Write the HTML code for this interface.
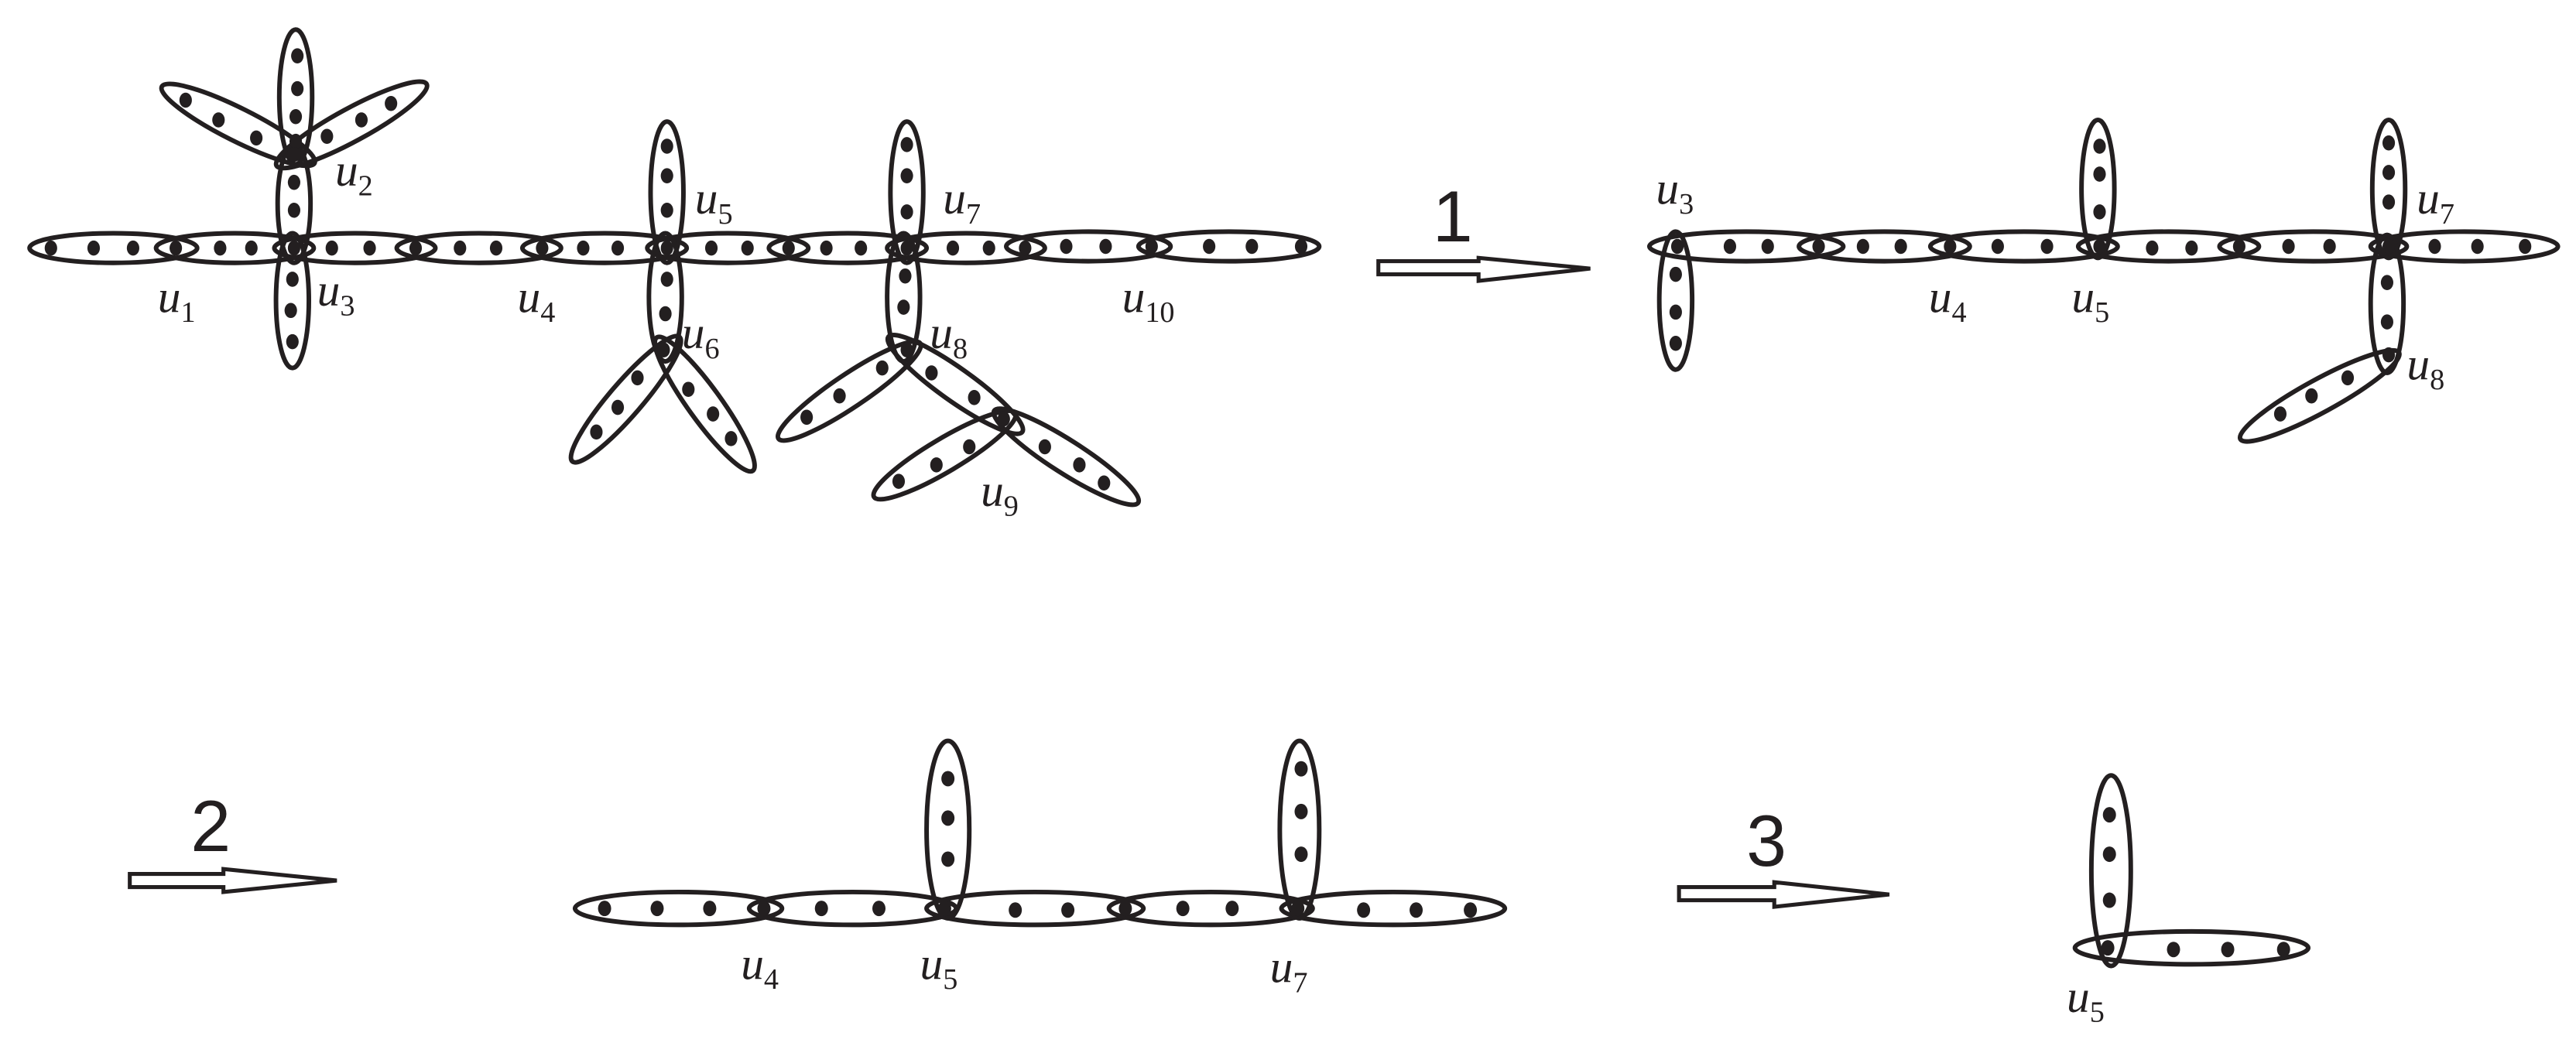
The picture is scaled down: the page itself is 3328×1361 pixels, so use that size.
<!DOCTYPE html>
<html><head><meta charset="utf-8"><style>
html,body{margin:0;padding:0;background:#fff;}
svg{display:block;}
.e{fill:none;stroke:#231f20;stroke-width:2.8;}
.d{fill:#231f20;}
.l{font-family:"Liberation Serif",serif;font-style:italic;font-size:28px;fill:#231f20;}
.s{font-style:normal;font-size:18px;}
.n{font-family:"Liberation Sans",sans-serif;font-size:44px;fill:#231f20;}
.a{fill:#fff;stroke:#231f20;stroke-width:2.4;}
</style></head><body>
<svg width="3328" height="1361" viewBox="0 0 1568 641" preserveAspectRatio="none" xmlns="http://www.w3.org/2000/svg">
<g class="e">
<ellipse cx="69" cy="151" rx="51" ry="9"/>
<ellipse cx="143" cy="151" rx="48" ry="9"/>
<ellipse cx="216" cy="151" rx="49" ry="9"/>
<ellipse cx="291.5" cy="151" rx="50" ry="9"/>
<ellipse cx="368" cy="151" rx="50" ry="9"/>
<ellipse cx="443" cy="151" rx="49" ry="9"/>
<ellipse cx="516" cy="151" rx="48" ry="9"/>
<ellipse cx="588" cy="151" rx="48" ry="9"/>
<ellipse cx="662.5" cy="150" rx="50" ry="9"/>
<ellipse cx="748" cy="150" rx="55" ry="9"/>
<ellipse cx="180" cy="59" rx="10" ry="41"/>
<ellipse cx="179" cy="124" rx="10" ry="36"/>
<ellipse cx="178" cy="183" rx="10" ry="41"/>
<ellipse cx="145" cy="76" rx="52" ry="10" transform="rotate(26.6 145 76)"/>
<ellipse cx="214" cy="76" rx="52" ry="10" transform="rotate(-28.5 214 76)"/>
<ellipse cx="406" cy="117" rx="10" ry="43"/>
<ellipse cx="405" cy="181" rx="10" ry="39"/>
<ellipse cx="381" cy="243" rx="50" ry="10" transform="rotate(-49.3 381 243)"/>
<ellipse cx="429" cy="246" rx="50" ry="10" transform="rotate(54.2 429 246)"/>
<ellipse cx="552" cy="117" rx="10" ry="43"/>
<ellipse cx="550" cy="181" rx="10" ry="39"/>
<ellipse cx="517" cy="238" rx="52" ry="10" transform="rotate(-33.9 517 238)"/>
<ellipse cx="581.5" cy="234" rx="50" ry="10" transform="rotate(35.4 581.5 234)"/>
<ellipse cx="575" cy="277" rx="50" ry="10" transform="rotate(-30.7 575 277)"/>
<ellipse cx="649" cy="278" rx="52" ry="10" transform="rotate(32.6 649 278)"/>
</g>
<g class="d">
<ellipse cx="31" cy="151" rx="3.8" ry="4.6"/><ellipse cx="57" cy="151" rx="3.8" ry="4.6"/><ellipse cx="81" cy="151" rx="3.8" ry="4.6"/><ellipse cx="107" cy="151" rx="3.8" ry="4.6"/>
<ellipse cx="134" cy="151" rx="3.8" ry="4.6"/><ellipse cx="153" cy="151" rx="3.8" ry="4.6"/><ellipse cx="179" cy="151" rx="3.8" ry="4.6"/><ellipse cx="202" cy="151" rx="3.8" ry="4.6"/>
<ellipse cx="225" cy="151" rx="3.8" ry="4.6"/><ellipse cx="253" cy="151" rx="3.8" ry="4.6"/><ellipse cx="280" cy="151" rx="3.8" ry="4.6"/><ellipse cx="302" cy="151" rx="3.8" ry="4.6"/>
<ellipse cx="330" cy="151" rx="3.8" ry="4.6"/><ellipse cx="355" cy="151" rx="3.8" ry="4.6"/><ellipse cx="376" cy="151" rx="3.8" ry="4.6"/><ellipse cx="406" cy="151" rx="3.8" ry="4.6"/>
<ellipse cx="433" cy="151" rx="3.8" ry="4.6"/><ellipse cx="455" cy="151" rx="3.8" ry="4.6"/><ellipse cx="480" cy="151" rx="3.8" ry="4.6"/><ellipse cx="503" cy="151" rx="3.8" ry="4.6"/>
<ellipse cx="524" cy="151" rx="3.8" ry="4.6"/><ellipse cx="552" cy="151" rx="3.8" ry="4.6"/><ellipse cx="580" cy="151" rx="3.8" ry="4.6"/><ellipse cx="602" cy="151" rx="3.8" ry="4.6"/>
<ellipse cx="624" cy="151" rx="3.8" ry="4.6"/><ellipse cx="649" cy="150" rx="3.8" ry="4.6"/><ellipse cx="673" cy="150" rx="3.8" ry="4.6"/><ellipse cx="701" cy="150" rx="3.8" ry="4.6"/>
<ellipse cx="736" cy="150" rx="3.8" ry="4.6"/><ellipse cx="762" cy="150" rx="3.8" ry="4.6"/><ellipse cx="792" cy="150" rx="3.8" ry="4.6"/>
<ellipse cx="181" cy="34" rx="3.8" ry="4.6"/><ellipse cx="181" cy="54" rx="3.8" ry="4.6"/><ellipse cx="180" cy="71" rx="3.8" ry="4.6"/><ellipse cx="180" cy="86" rx="3.8" ry="4.6"/><ellipse cx="179" cy="94" rx="4.5" ry="4.5"/>
<ellipse cx="179" cy="111" rx="3.8" ry="4.6"/><ellipse cx="179" cy="128" rx="3.8" ry="4.6"/>
<ellipse cx="178" cy="170" rx="3.8" ry="4.6"/><ellipse cx="177" cy="189" rx="3.8" ry="4.6"/><ellipse cx="178" cy="208" rx="3.8" ry="4.6"/>
<ellipse cx="113" cy="61" rx="3.8" ry="4.6"/><ellipse cx="133" cy="73" rx="3.8" ry="4.6"/><ellipse cx="156" cy="84" rx="3.8" ry="4.6"/>
<ellipse cx="238" cy="63" rx="3.8" ry="4.6"/><ellipse cx="220" cy="73" rx="3.8" ry="4.6"/><ellipse cx="199" cy="83" rx="3.8" ry="4.6"/>
<ellipse cx="406" cy="89" rx="3.8" ry="4.6"/><ellipse cx="406" cy="107" rx="3.8" ry="4.6"/><ellipse cx="406" cy="128" rx="3.8" ry="4.6"/>
<ellipse cx="406" cy="170" rx="3.8" ry="4.6"/><ellipse cx="405" cy="191" rx="3.8" ry="4.6"/><ellipse cx="404" cy="213" rx="3.8" ry="4.6"/>
<ellipse cx="388" cy="230" rx="3.8" ry="4.6"/><ellipse cx="376" cy="248" rx="3.8" ry="4.6"/><ellipse cx="363" cy="263" rx="3.8" ry="4.6"/>
<ellipse cx="419" cy="237" rx="3.8" ry="4.6"/><ellipse cx="434" cy="252" rx="3.8" ry="4.6"/><ellipse cx="445" cy="267" rx="3.8" ry="4.6"/>
<ellipse cx="552" cy="88" rx="3.8" ry="4.6"/><ellipse cx="552" cy="107" rx="3.8" ry="4.6"/><ellipse cx="552" cy="129" rx="3.8" ry="4.6"/>
<ellipse cx="551" cy="168" rx="3.8" ry="4.6"/><ellipse cx="550" cy="187" rx="3.8" ry="4.6"/><ellipse cx="552" cy="213" rx="3.8" ry="4.6"/>
<ellipse cx="537" cy="224" rx="3.8" ry="4.6"/><ellipse cx="511" cy="241" rx="3.8" ry="4.6"/><ellipse cx="491" cy="254" rx="3.8" ry="4.6"/>
<ellipse cx="567" cy="227" rx="3.8" ry="4.6"/><ellipse cx="593" cy="242" rx="3.8" ry="4.6"/><ellipse cx="611" cy="255" rx="3.8" ry="4.6"/>
<ellipse cx="590" cy="272" rx="3.8" ry="4.6"/><ellipse cx="570" cy="283" rx="3.8" ry="4.6"/><ellipse cx="547" cy="293" rx="3.8" ry="4.6"/>
<ellipse cx="636" cy="272" rx="3.8" ry="4.6"/><ellipse cx="657" cy="283" rx="3.8" ry="4.6"/><ellipse cx="672" cy="294" rx="3.8" ry="4.6"/>
</g>
<text class="l" x="204" y="113">u<tspan class="s" dy="6">2</tspan></text>
<text class="l" x="96" y="190">u<tspan class="s" dy="6">1</tspan></text>
<text class="l" x="193" y="186">u<tspan class="s" dy="6">3</tspan></text>
<text class="l" x="315" y="190">u<tspan class="s" dy="6">4</tspan></text>
<text class="l" x="423" y="130">u<tspan class="s" dy="6">5</tspan></text>
<text class="l" x="415" y="212">u<tspan class="s" dy="6">6</tspan></text>
<text class="l" x="574" y="130">u<tspan class="s" dy="6">7</tspan></text>
<text class="l" x="566" y="212">u<tspan class="s" dy="6">8</tspan></text>
<text class="l" x="597" y="308">u<tspan class="s" dy="6">9</tspan></text>
<text class="l" x="683" y="190">u<tspan class="s" dy="6">10</tspan></text>

<path class="a" d="M839 159 H900 V157 L968 163.5 L900 171 V167 H839 Z"/>
<text class="n" x="872" y="147">1</text>

<g class="e">
<ellipse cx="1063" cy="150" rx="59" ry="9"/>
<ellipse cx="1147" cy="150" rx="52" ry="9"/>
<ellipse cx="1232" cy="150" rx="57" ry="9"/>
<ellipse cx="1320" cy="150" rx="55" ry="9"/>
<ellipse cx="1408" cy="150" rx="57" ry="9"/>
<ellipse cx="1500" cy="150" rx="57" ry="9"/>
<ellipse cx="1020" cy="183" rx="10" ry="42"/>
<ellipse cx="1277" cy="115" rx="10" ry="42"/>
<ellipse cx="1454" cy="115" rx="10" ry="42"/>
<ellipse cx="1453" cy="185" rx="10" ry="42"/>
<ellipse cx="1412" cy="241" rx="55" ry="10" transform="rotate(-28.6 1412 241)"/>
</g>
<g class="d">
<ellipse cx="1021" cy="150" rx="3.8" ry="4.6"/><ellipse cx="1053" cy="150" rx="3.8" ry="4.6"/><ellipse cx="1076" cy="150" rx="3.8" ry="4.6"/><ellipse cx="1107" cy="150" rx="3.8" ry="4.6"/>
<ellipse cx="1134" cy="150" rx="3.8" ry="4.6"/><ellipse cx="1157" cy="150" rx="3.8" ry="4.6"/><ellipse cx="1187" cy="150" rx="3.8" ry="4.6"/><ellipse cx="1216" cy="150" rx="3.8" ry="4.6"/>
<ellipse cx="1246" cy="150" rx="3.8" ry="4.6"/><ellipse cx="1278" cy="150" rx="3.8" ry="4.6"/><ellipse cx="1310" cy="151" rx="3.8" ry="4.6"/><ellipse cx="1334" cy="151" rx="3.8" ry="4.6"/>
<ellipse cx="1363" cy="150" rx="3.8" ry="4.6"/><ellipse cx="1393" cy="150" rx="3.8" ry="4.6"/><ellipse cx="1418" cy="150" rx="3.8" ry="4.6"/><ellipse cx="1454" cy="150" rx="3.8" ry="4.6"/>
<ellipse cx="1482" cy="150" rx="3.8" ry="4.6"/><ellipse cx="1508" cy="150" rx="3.8" ry="4.6"/><ellipse cx="1537" cy="150" rx="3.8" ry="4.6"/>
<ellipse cx="1020" cy="167" rx="3.8" ry="4.6"/><ellipse cx="1020" cy="190" rx="3.8" ry="4.6"/><ellipse cx="1020" cy="209" rx="3.8" ry="4.6"/>
<ellipse cx="1278" cy="89" rx="3.8" ry="4.6"/><ellipse cx="1278" cy="106" rx="3.8" ry="4.6"/><ellipse cx="1278" cy="129" rx="3.8" ry="4.6"/>
<ellipse cx="1454" cy="87" rx="3.8" ry="4.6"/><ellipse cx="1454" cy="105" rx="3.8" ry="4.6"/><ellipse cx="1454" cy="123" rx="3.8" ry="4.6"/>
<ellipse cx="1453" cy="172" rx="3.8" ry="4.6"/><ellipse cx="1453" cy="196" rx="3.8" ry="4.6"/><ellipse cx="1454" cy="216" rx="3.8" ry="4.6"/>
<ellipse cx="1429" cy="230" rx="3.8" ry="4.6"/><ellipse cx="1407" cy="241" rx="3.8" ry="4.6"/><ellipse cx="1388" cy="252" rx="3.8" ry="4.6"/>
</g>
<text class="l" x="1008" y="124">u<tspan class="s" dy="6">3</tspan></text>
<text class="l" x="1174" y="190">u<tspan class="s" dy="6">4</tspan></text>
<text class="l" x="1261" y="190">u<tspan class="s" dy="6">5</tspan></text>
<text class="l" x="1471" y="130">u<tspan class="s" dy="6">7</tspan></text>
<text class="l" x="1465" y="231">u<tspan class="s" dy="6">8</tspan></text>

<path class="a" d="M79 532 H136 V529 L205 536 L136 543 V540 H79 Z"/>
<text class="n" x="116" y="518">2</text>

<g class="e">
<ellipse cx="413" cy="553" rx="63" ry="10"/>
<ellipse cx="519" cy="553" rx="63" ry="10"/>
<ellipse cx="630" cy="553" rx="66" ry="10"/>
<ellipse cx="737" cy="553" rx="62" ry="10"/>
<ellipse cx="848" cy="553" rx="68" ry="10"/>
<ellipse cx="577" cy="505" rx="13" ry="54"/>
<ellipse cx="791" cy="505" rx="12" ry="54"/>
</g>
<g class="d">
<ellipse cx="368" cy="553" rx="4" ry="4.7"/><ellipse cx="400" cy="553" rx="4" ry="4.7"/><ellipse cx="432" cy="553" rx="4" ry="4.7"/><ellipse cx="465" cy="553" rx="4" ry="4.7"/>
<ellipse cx="500" cy="553" rx="4" ry="4.7"/><ellipse cx="535" cy="553" rx="4" ry="4.7"/><ellipse cx="575" cy="553" rx="4" ry="4.7"/><ellipse cx="618" cy="554" rx="4" ry="4.7"/>
<ellipse cx="650" cy="554" rx="4" ry="4.7"/><ellipse cx="685" cy="553" rx="4" ry="4.7"/><ellipse cx="720" cy="553" rx="4" ry="4.7"/><ellipse cx="750" cy="553" rx="4" ry="4.7"/>
<ellipse cx="790" cy="553" rx="4" ry="4.7"/><ellipse cx="830" cy="554" rx="4" ry="4.7"/><ellipse cx="862" cy="554" rx="4" ry="4.7"/><ellipse cx="895" cy="554" rx="4" ry="4.7"/>
<ellipse cx="577" cy="474" rx="4" ry="4.7"/><ellipse cx="577" cy="498" rx="4" ry="4.7"/><ellipse cx="577" cy="523" rx="4" ry="4.7"/>
<ellipse cx="792" cy="468" rx="4" ry="4.7"/><ellipse cx="792" cy="494" rx="4" ry="4.7"/><ellipse cx="792" cy="520" rx="4" ry="4.7"/>
</g>
<text class="l" x="451" y="596">u<tspan class="s" dy="6">4</tspan></text>
<text class="l" x="560" y="596">u<tspan class="s" dy="6">5</tspan></text>
<text class="l" x="773" y="598">u<tspan class="s" dy="6">7</tspan></text>

<path class="a" d="M1022 540 H1080 V537 L1150 544.5 L1080 552 V548 H1022 Z"/>
<text class="n" x="1063" y="527">3</text>

<g class="e">
<ellipse cx="1285" cy="530" rx="12" ry="58"/>
<ellipse cx="1334" cy="577" rx="71" ry="10"/>
</g>
<g class="d">
<ellipse cx="1284" cy="496" rx="4" ry="4.7"/><ellipse cx="1284" cy="520" rx="4" ry="4.7"/><ellipse cx="1284" cy="548" rx="4" ry="4.7"/>
<ellipse cx="1283" cy="577" rx="4" ry="4.7"/><ellipse cx="1323" cy="578" rx="4" ry="4.7"/><ellipse cx="1356" cy="578" rx="4" ry="4.7"/><ellipse cx="1390" cy="578" rx="4" ry="4.7"/>
</g>
<text class="l" x="1258" y="616">u<tspan class="s" dy="6">5</tspan></text>
</svg>
</body></html>
